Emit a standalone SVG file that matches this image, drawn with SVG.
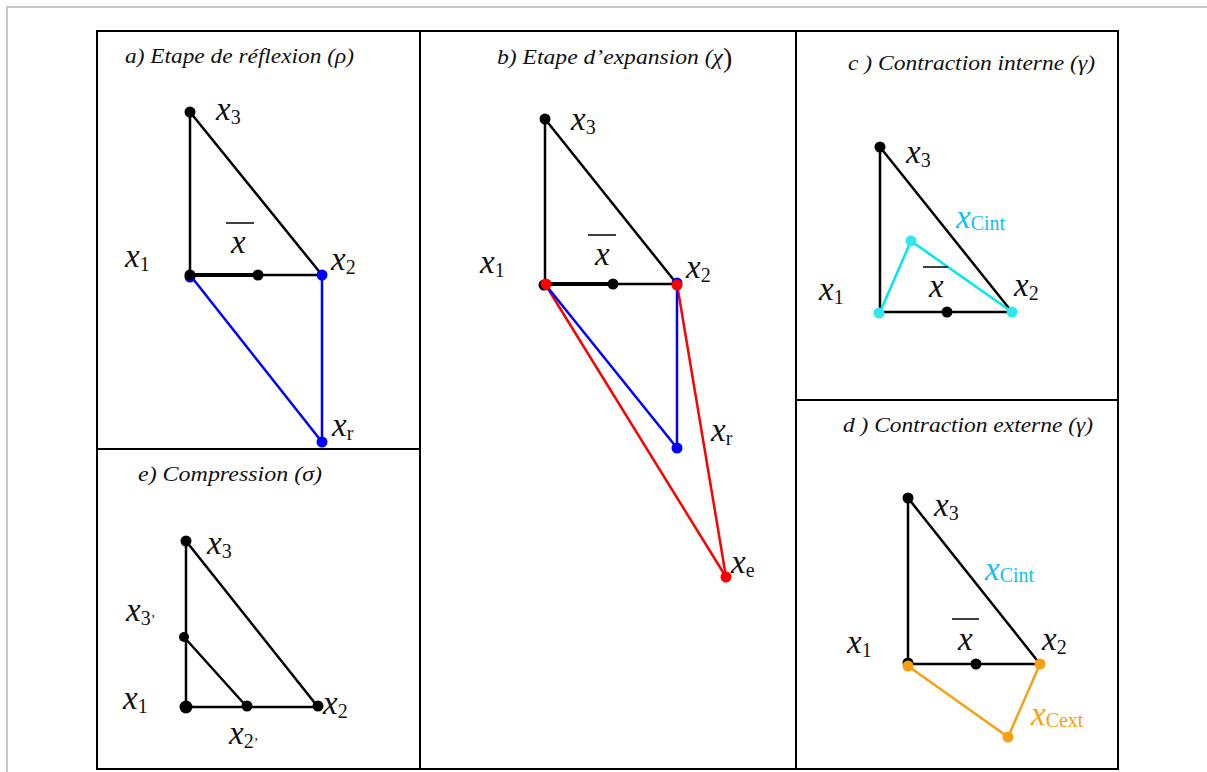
<svg xmlns="http://www.w3.org/2000/svg" width="1207" height="772" viewBox="0 0 1207 772">
<style>
.frame{fill:none;stroke:#000;stroke-width:2}
.gray{fill:none;stroke:#c8c8c8;stroke-width:2}
.ln{fill:none;stroke:#000;stroke-width:2.5;stroke-linecap:round}
.thick{stroke-width:4}
.blue{stroke:#0000ff}
.red{stroke:#ff0000}
.cyan{stroke:#00e8f0}
.orange{stroke:#f8a010}
.title{font-family:'Liberation Serif','Times New Roman',Times,serif;font-style:italic;font-size:21px;fill:#111}
.lb{font-family:'Liberation Serif','Times New Roman',Times,serif;font-size:33px;fill:#111}
.v{font-style:italic}
.s{font-size:20px;font-style:normal}
.ss{font-size:14px;font-style:normal}
.cy{fill:#10c0f0}
.or{fill:#f8a010}
</style>
<path class="gray" d="M7 772V7H1207"/>
<g id="frames">
<rect class="frame" x="97" y="31" width="1021" height="738"/>
<line class="frame" x1="420" y1="31" x2="420" y2="769"/>
<line class="frame" x1="796" y1="31" x2="796" y2="769"/>
<line class="frame" x1="97" y1="449" x2="420" y2="449"/>
<line class="frame" x1="796" y1="400" x2="1118" y2="400"/>
</g>

<g id="panel-a">
<text class="title" x="125" y="63" textLength="229" lengthAdjust="spacingAndGlyphs">a) Etape de réflexion (ρ)</text>
<g id="a-connectors">
<line class="ln blue" x1="190" y1="275" x2="322" y2="442"/>
<line class="ln blue" x1="322" y1="275" x2="322" y2="442"/>
<line class="ln" x1="190" y1="112" x2="190" y2="275"/>
<line class="ln" x1="190" y1="112" x2="322" y2="275"/>
<line class="ln thick" x1="190" y1="275" x2="258" y2="275"/>
<line class="ln" x1="258" y1="275" x2="322" y2="275"/>
</g>
<circle cx="190" cy="277" r="5.5" fill="#0000ff"/>
<circle cx="190" cy="275" r="5.5" fill="#000"/>
<circle cx="190" cy="112" r="5.5" fill="#000"/>
<circle cx="258" cy="275" r="5.5" fill="#000"/>
<circle cx="322" cy="275" r="5.5" fill="#0000ff"/>
<circle cx="322" cy="442" r="5.5" fill="#0000ff"/>
<text class="lb" x="216" y="120"><tspan class="v">x</tspan><tspan class="s" dy="4">3</tspan></text>
<text class="lb" x="125" y="267"><tspan class="v">x</tspan><tspan class="s" dy="4">1</tspan></text>
<text class="lb" x="331" y="270"><tspan class="v">x</tspan><tspan class="s" dy="4">2</tspan></text>
<text class="lb" x="332" y="436"><tspan class="v">x</tspan><tspan class="s" dy="4">r</tspan></text>
<line x1="226" y1="223" x2="254" y2="223" stroke="#000" stroke-width="1.5"/>
<text class="lb v" x="231" y="253">x</text>
</g>

<g id="panel-b">
<text class="title" x="497" y="64" textLength="226" lengthAdjust="spacingAndGlyphs">b) Etape d’expansion (χ</text>
<text class="title" x="723" y="67" style="font-style:normal;font-size:28px">)</text>
<g id="b-connectors">
<line class="ln red" x1="545" y1="284" x2="726" y2="577"/>
<line class="ln red" x1="677" y1="284" x2="726" y2="577"/>
<line class="ln blue" x1="545" y1="284" x2="677" y2="448"/>
<line class="ln blue" x1="677" y1="284" x2="677" y2="448"/>
<line class="ln" x1="545" y1="119" x2="545" y2="284"/>
<line class="ln" x1="545" y1="119" x2="677" y2="284"/>
<line class="ln thick" x1="545" y1="284" x2="613" y2="284"/>
<line class="ln" x1="613" y1="284" x2="677" y2="284"/>
</g>
<circle cx="545" cy="119" r="5.5" fill="#000"/>
<circle cx="544" cy="285" r="5.5" fill="#000"/>
<circle cx="546" cy="284" r="5.5" fill="#ff0000"/>
<circle cx="613" cy="284" r="5.5" fill="#000"/>
<circle cx="677" cy="283" r="5.5" fill="#0000ff"/>
<circle cx="677" cy="285" r="5.5" fill="#ff0000"/>
<circle cx="677" cy="448" r="5.5" fill="#0000ff"/>
<circle cx="726" cy="577" r="5.5" fill="#ff0000"/>
<text class="lb" x="571" y="130"><tspan class="v">x</tspan><tspan class="s" dy="4">3</tspan></text>
<text class="lb" x="480" y="273"><tspan class="v">x</tspan><tspan class="s" dy="4">1</tspan></text>
<text class="lb" x="686" y="278"><tspan class="v">x</tspan><tspan class="s" dy="4">2</tspan></text>
<text class="lb" x="711" y="441"><tspan class="v">x</tspan><tspan class="s" dy="4">r</tspan></text>
<text class="lb" x="731" y="573"><tspan class="v">x</tspan><tspan class="s" dy="4">e</tspan></text>
<line x1="588" y1="235" x2="616" y2="235" stroke="#000" stroke-width="1.5"/>
<text class="lb v" x="595" y="265">x</text>
</g>

<g id="panel-c">
<text class="title" x="848" y="70" textLength="247" lengthAdjust="spacingAndGlyphs">c ) Contraction interne (γ)</text>
<g id="c-connectors">
<line class="ln" x1="880" y1="147" x2="880" y2="312"/>
<line class="ln" x1="880" y1="147" x2="1012" y2="312"/>
<line class="ln" x1="880" y1="312" x2="1012" y2="312"/>
<line class="ln cyan" x1="880" y1="312" x2="911" y2="241"/>
<line class="ln cyan" x1="911" y1="241" x2="1012" y2="312"/>
</g>
<circle cx="880" cy="147" r="5.5" fill="#000"/>
<circle cx="947" cy="312" r="5.5" fill="#000"/>
<circle cx="879" cy="313" r="5.5" fill="#30e8ec"/>
<circle cx="1012" cy="312" r="5.5" fill="#30e8ec"/>
<circle cx="911" cy="241" r="5.5" fill="#30e8ec"/>
<text class="lb" x="906" y="163"><tspan class="v">x</tspan><tspan class="s" dy="4">3</tspan></text>
<text class="lb" x="819" y="300"><tspan class="v">x</tspan><tspan class="s" dy="4">1</tspan></text>
<text class="lb" x="1014" y="296"><tspan class="v">x</tspan><tspan class="s" dy="4">2</tspan></text>
<text class="lb cy" x="956" y="228"><tspan class="v">x</tspan><tspan class="s" dy="2">Cint</tspan></text>
<line x1="923" y1="267" x2="948" y2="267" stroke="#000" stroke-width="1.5"/>
<text class="lb v" x="929" y="297">x</text>
</g>

<g id="panel-d">
<text class="title" x="843" y="432" textLength="250" lengthAdjust="spacingAndGlyphs">d ) Contraction externe (γ)</text>
<g id="d-connectors">
<line class="ln" x1="908" y1="498" x2="908" y2="664"/>
<line class="ln" x1="908" y1="498" x2="1040" y2="664"/>
<line class="ln" x1="908" y1="664" x2="1040" y2="664"/>
<line class="ln orange" x1="908" y1="666" x2="1008" y2="737"/>
<line class="ln orange" x1="1040" y1="664" x2="1008" y2="737"/>
</g>
<circle cx="908" cy="498" r="5.5" fill="#000"/>
<circle cx="908" cy="663" r="5.5" fill="#000"/>
<circle cx="976" cy="664" r="5.5" fill="#000"/>
<circle cx="908" cy="666" r="5.5" fill="#f8a010"/>
<circle cx="1040" cy="664" r="5.5" fill="#f8a010"/>
<circle cx="1008" cy="737" r="5.5" fill="#f8a010"/>
<text class="lb" x="934" y="516"><tspan class="v">x</tspan><tspan class="s" dy="4">3</tspan></text>
<text class="lb" x="847" y="653"><tspan class="v">x</tspan><tspan class="s" dy="4">1</tspan></text>
<text class="lb" x="1042" y="650"><tspan class="v">x</tspan><tspan class="s" dy="4">2</tspan></text>
<text class="lb cy" x="985" y="580"><tspan class="v">x</tspan><tspan class="s" dy="2">Cint</tspan></text>
<text class="lb or" x="1031" y="725"><tspan class="v">x</tspan><tspan class="s" dy="2">Cext</tspan></text>
<line x1="952" y1="619" x2="979" y2="619" stroke="#000" stroke-width="1.5"/>
<text class="lb v" x="958" y="650">x</text>
</g>

<g id="panel-e">
<text class="title" x="138" y="481" textLength="184" lengthAdjust="spacingAndGlyphs">e) Compression (σ)</text>
<g id="e-connectors">
<line class="ln" x1="186" y1="541" x2="186" y2="707"/>
<line class="ln" x1="186" y1="541" x2="318" y2="707"/>
<line class="ln" x1="184" y1="637" x2="247" y2="707"/>
<line class="ln" x1="186" y1="707" x2="318" y2="707"/>
</g>
<circle cx="186" cy="541" r="5.5" fill="#000"/>
<circle cx="184" cy="637" r="5" fill="#000"/>
<circle cx="186" cy="707" r="6.5" fill="#000"/>
<circle cx="247" cy="706" r="5.5" fill="#000"/>
<circle cx="318" cy="706" r="5.5" fill="#000"/>
<text class="lb" x="207" y="554"><tspan class="v">x</tspan><tspan class="s" dy="4">3</tspan></text>
<text class="lb" x="126" y="621"><tspan class="v">x</tspan><tspan class="s" dy="4">3</tspan><tspan class="ss" dy="0">’</tspan></text>
<text class="lb" x="123" y="709"><tspan class="v">x</tspan><tspan class="s" dy="4">1</tspan></text>
<text class="lb" x="323" y="714"><tspan class="v">x</tspan><tspan class="s" dy="4">2</tspan></text>
<text class="lb" x="229" y="744"><tspan class="v">x</tspan><tspan class="s" dy="4">2</tspan><tspan class="ss" dy="0">’</tspan></text>
</g>
</svg>
